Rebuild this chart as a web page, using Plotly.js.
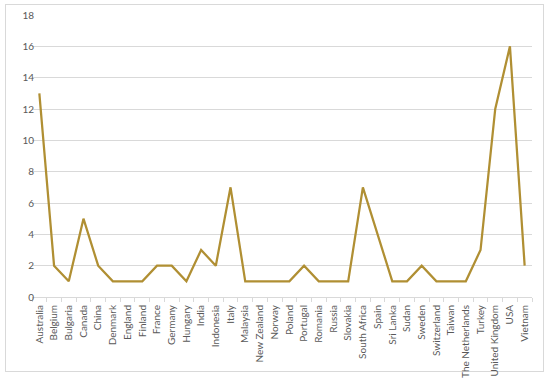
<!DOCTYPE html>
<html><head><meta charset="utf-8">
<script src="https://cdn.plot.ly/plotly-3.0.1.min.js"></script>
<style>
html,body{margin:0;padding:0;background:#fff;}
#frame{position:absolute;left:5px;top:4px;width:539px;height:368px;border:1px solid #d9d9d9;box-sizing:border-box;}
#chart{position:absolute;left:0;top:0;width:550px;height:379px;}
</style></head>
<body>
<div id="frame"></div>
<div id="chart"></div>
<script>
const countries = ["Australia","Belgium","Bulgaria","Canada","China","Denmark","England","Finland","France","Germany","Hungary","India","Indonesia","Italy","Malaysia","New Zealand","Norway","Poland","Portugal","Romania","Russia","Slovakia","South Africa","Spain","Sri Lanka","Sudan","Sweden","Switzerland","Taiwan","The Netherlands","Turkey","United Kingdom","USA","Vietnam"];
const counts = [13,2,1,5,2,1,1,1,2,2,1,3,2,7,1,1,1,1,2,1,1,1,7,4,1,1,2,1,1,1,3,12,16,2];
const yTicks = [0,2,4,6,8,10,12,14,16,18];

Plotly.newPlot('chart', [{
  x: countries, y: counts, type: 'scatter', mode: 'lines',
  line: {color: '#b08f33', width: 2.25}, hoverinfo: 'skip'
}], {
  width: 550, height: 379,
  margin: {l: 31.6, r: 17.6, t: 15, b: 82},
  paper_bgcolor: 'rgba(0,0,0,0)', plot_bgcolor: 'rgba(0,0,0,0)',
  showlegend: false,
  font: {family: 'Lato, "Open Sans", sans-serif', size: 10, color: '#595959'},
  xaxis: {
    type: 'category', tickangle: -90, tickson: 'boundaries',
    ticks: 'outside', ticklen: 4, tickcolor: '#d9d9d9',
    ticklabelstandoff: 3,
    showgrid: false, showline: true, linecolor: '#d9d9d9', linewidth: 1,
    range: [-0.5, countries.length - 0.5], fixedrange: true
  },
  yaxis: {
    range: [0, 18], tickvals: yTicks, ticktext: yTicks.map(String),
    showgrid: true, gridcolor: '#d9d9d9', gridwidth: 1,
    zeroline: false, showline: false, ticks: '', ticklen: 0,
    ticklabelstandoff: -3,
    fixedrange: true
  }
}, {staticPlot: true, displayModeBar: false});
</script>
</body></html>
